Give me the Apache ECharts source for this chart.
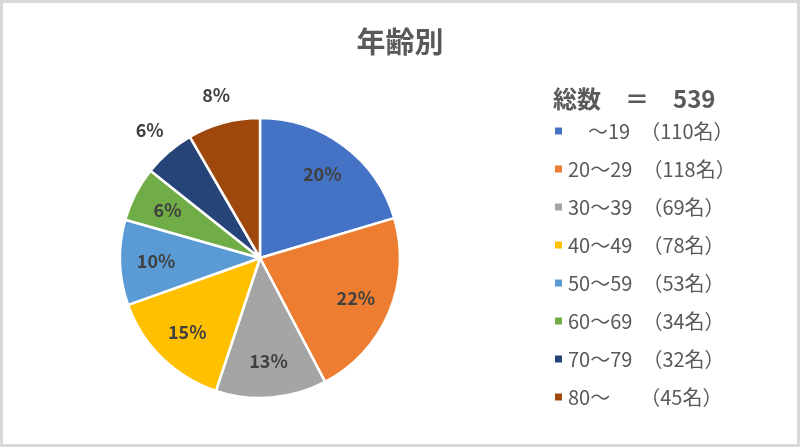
<!DOCTYPE html>
<html>
<head>
<meta charset="utf-8">
<script src="https://cdn.jsdelivr.net/npm/echarts@6/dist/echarts.min.js"></script>
<style>
  html, body { margin: 0; padding: 0; background: #fff; }
  #main { width: 800px; height: 447px; box-sizing: border-box; border: 3px solid #d9d9d9; }
</style>
</head>
<body>
<div id="main"></div>
<script>
// データ
var categories = ['　～19', '20～29', '30～39', '40～49', '50～59', '60～69', '70～79', '80～　'];
var counts = [110, 118, 69, 78, 53, 34, 32, 45];
var pctLabels = ['20%', '22%', '13%', '15%', '10%', '6%', '6%', '8%'];
var colors = ['#4472C4', '#ED7D31', '#A5A5A5', '#FFC000', '#5B9BD5', '#70AD47', '#264478', '#9E480E'];
var outsideIdx = [6, 7]; // 外側に出すラベル

(function () {
  var myChart = echarts.init(document.getElementById('main'));
  var font = '"Noto Sans CJK JP", "Noto Sans", sans-serif';
  var total = counts.reduce(function (a, b) { return a + b; }, 0);
  var center = [257, 255]; // 枠線3px分ずらす

  var pieData = categories.map(function (name, i) {
    return { name: name, value: counts[i], itemStyle: { color: colors[i] } };
  });

  // ラベル用の透明なパイ
  function labelData(showOutside) {
    return categories.map(function (name, i) {
      var isOut = outsideIdx.indexOf(i) >= 0;
      return {
        name: name,
        value: counts[i],
        label: { show: showOutside ? isOut : !isOut }
      };
    });
  }

  var labelStyle = {
    position: 'inside',
    color: '#404040',
    fontSize: 18,
    fontWeight: 'bold',
    fontFamily: font,
    formatter: function (p) { return pctLabels[p.dataIndex]; }
  };

  var option = {
    animation: false,
    color: colors,
    title: [
      {
        text: '年齢別',
        left: 'center',
        top: 19,
        textStyle: { color: '#595959', fontSize: 29, fontWeight: 'bold', fontFamily: font }
      },
      {
        text: '総数　＝　' + total,
        left: 545,
        top: 79,
        textStyle: { color: '#595959', fontSize: 24, fontWeight: 'bold', fontFamily: font }
      }
    ],
    legend: {
      orient: 'vertical',
      left: 550,
      top: 118,
      padding: 0,
      itemWidth: 9,
      itemHeight: 9,
      itemGap: 18,
      icon: 'rect',
      data: categories,
      formatter: function (name) {
        return name + '　（' + counts[categories.indexOf(name)] + '名）';
      },
      textStyle: { color: '#595959', fontSize: 20, lineHeight: 20, fontFamily: font }
    },
    series: [
      {
        type: 'pie',
        center: center,
        radius: 140,
        startAngle: 90,
        clockwise: true,
        avoidLabelOverlap: false,
        label: { show: false },
        labelLine: { show: false },
        itemStyle: { borderColor: '#fff', borderWidth: 2.5 },
        data: pieData
      },
      {
        type: 'pie',
        silent: true,
        center: center,
        radius: [62, 140],
        startAngle: 90,
        avoidLabelOverlap: false,
        itemStyle: { color: 'rgba(0,0,0,0)', borderWidth: 0 },
        label: labelStyle,
        labelLine: { show: false },
        data: labelData(false)
      },
      {
        type: 'pie',
        silent: true,
        center: center,
        radius: [140, 192],
        startAngle: 90,
        avoidLabelOverlap: false,
        itemStyle: { color: 'rgba(0,0,0,0)', borderWidth: 0 },
        label: labelStyle,
        labelLine: { show: false },
        data: labelData(true)
      }
    ]
  };

  myChart.setOption(option);
  window.addEventListener('resize', myChart.resize);
})();
</script>
</body>
</html>
